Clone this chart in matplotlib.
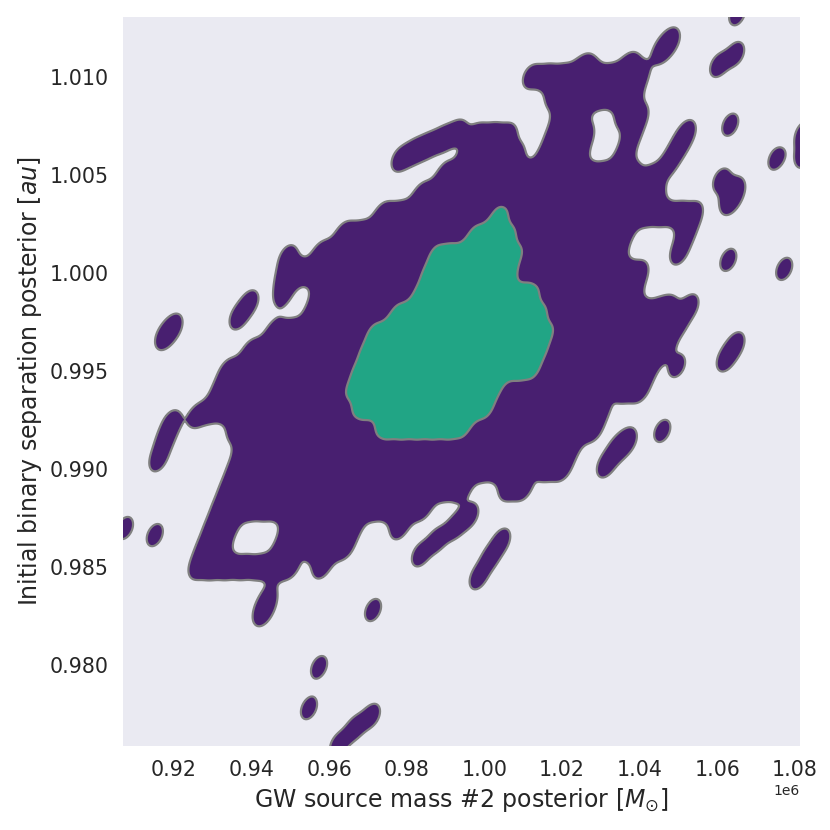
import numpy as np
import matplotlib
matplotlib.use('Agg')
import matplotlib.pyplot as plt

# posterior samples
# mass #2 in units of 1e6 Msun, separation in au
# main body of the posterior, one list of masses per separation row
body_sep = [1.010, 1.009, 1.008, 1.007, 1.006, 1.005, 1.004, 1.003, 1.002, 1.001,
            1.000, 0.999, 0.998, 0.997, 0.996, 0.995, 0.994, 0.993, 0.992, 0.991,
            0.990, 0.989, 0.988, 0.987, 0.986, 0.985]
body_mass = [
    [1.012, 1.016, 1.020, 1.024, 1.028, 1.032, 1.036, 1.040],
    [1.018, 1.022, 1.026, 1.030, 1.034, 1.038],
    [1.020, 1.024, 1.036, 1.040],
    [0.998, 1.002, 1.006, 1.018, 1.022, 1.026, 1.038],
    [0.996, 1.000, 1.004, 1.008, 1.016, 1.020, 1.024, 1.036],
    [0.990, 0.994, 0.998, 1.002, 1.006, 1.010, 1.014, 1.018, 1.022, 1.026, 1.030,
     1.034, 1.038],
    [0.984, 0.988, 0.992, 0.996, 1.000, 1.004, 1.008, 1.012, 1.016, 1.020, 1.024,
     1.028, 1.032, 1.036, 1.040, 1.044],
    [0.974, 0.978, 0.982, 0.986, 0.990, 0.994, 0.998, 1.002, 1.006, 1.010, 1.014,
     1.018, 1.022, 1.026, 1.030, 1.034, 1.038, 1.042, 1.046, 1.050, 1.054],
    [0.964, 0.968, 0.972, 0.976, 0.980, 0.984, 0.988, 0.992, 0.996, 1.000, 1.004,
     1.008, 1.012, 1.016, 1.020, 1.024, 1.028, 1.032, 1.036, 1.052],
    [0.958, 0.962, 0.966, 0.970, 0.974, 0.978, 0.982, 0.986, 0.990, 0.994, 0.998,
     1.002, 1.006, 1.010, 1.014, 1.018, 1.022, 1.026, 1.030, 1.034, 1.050],
    [0.952, 0.956, 0.960, 0.964, 0.968, 0.972, 0.976, 0.980, 0.984, 0.988, 0.992,
     0.996, 1.000, 1.004, 1.008, 1.012, 1.016, 1.020, 1.024, 1.028, 1.032, 1.036,
     1.040],
    [0.958, 0.962, 0.966, 0.970, 0.974, 0.978, 0.982, 0.986, 0.990, 0.994, 0.998,
     1.002, 1.006, 1.010, 1.014, 1.018, 1.022, 1.026, 1.030, 1.034, 1.038],
    [0.956, 0.960, 0.964, 0.968, 0.972, 0.976, 0.980, 0.984, 0.988, 0.992, 0.996,
     1.000, 1.004, 1.008, 1.012, 1.016, 1.020, 1.024, 1.028, 1.032, 1.036, 1.040,
     1.044],
    [0.946, 0.950, 0.954, 0.958, 0.962, 0.966, 0.970, 0.974, 0.978, 0.982, 0.986,
     0.990, 0.994, 0.998, 1.002, 1.006, 1.010, 1.014, 1.018, 1.022, 1.026, 1.030,
     1.034, 1.038, 1.042, 1.046],
    [0.940, 0.944, 0.948, 0.952, 0.956, 0.960, 0.964, 0.968, 0.972, 0.976, 0.980,
     0.984, 0.988, 0.992, 0.996, 1.000, 1.004, 1.008, 1.012, 1.016, 1.020, 1.024,
     1.028, 1.032, 1.036, 1.040, 1.044],
    [0.934, 0.938, 0.942, 0.946, 0.950, 0.954, 0.958, 0.962, 0.966, 0.970, 0.974,
     0.978, 0.982, 0.986, 0.990, 0.994, 0.998, 1.002, 1.006, 1.010, 1.014, 1.018,
     1.022, 1.026, 1.034, 1.038, 1.042],
    [0.932, 0.936, 0.940, 0.944, 0.948, 0.952, 0.956, 0.960, 0.964, 0.968, 0.972,
     0.976, 0.980, 0.984, 0.988, 0.992, 0.996, 1.000, 1.004, 1.008, 1.012, 1.016,
     1.020, 1.024, 1.028, 1.036, 1.040],
    [0.930, 0.934, 0.938, 0.942, 0.946, 0.950, 0.954, 0.958, 0.962, 0.966, 0.970,
     0.974, 0.978, 0.982, 0.986, 0.990, 0.994, 0.998, 1.002, 1.006, 1.010, 1.014,
     1.018, 1.022, 1.026, 1.030],
    [0.936, 0.940, 0.944, 0.948, 0.952, 0.956, 0.960, 0.964, 0.968, 0.972, 0.976,
     0.980, 0.984, 0.988, 0.992, 0.996, 1.000, 1.004, 1.008, 1.012, 1.016, 1.020,
     1.024, 1.028],
    [0.938, 0.942, 0.946, 0.950, 0.954, 0.958, 0.962, 0.966, 0.970, 0.974, 0.978,
     0.982, 0.986, 0.990, 0.994, 0.998, 1.002, 1.006, 1.014, 1.018, 1.022],
    [0.936, 0.940, 0.944, 0.948, 0.952, 0.956, 0.960, 0.964, 0.968, 0.972, 0.976,
     0.980, 0.984, 0.988, 0.992, 0.996, 1.000, 1.004, 1.008, 1.016, 1.020],
    [0.934, 0.938, 0.942, 0.946, 0.950, 0.954, 0.958, 0.962, 0.966, 0.970, 0.974,
     0.978, 0.982, 0.986, 0.990, 0.994, 1.006, 1.010],
    [0.932, 0.936, 0.940, 0.944, 0.948, 0.952, 0.956, 0.960, 0.964, 0.968, 0.972,
     0.976, 0.980, 0.984],
    [0.930, 0.934, 0.950, 0.954, 0.958, 0.962, 0.966, 0.978],
    [0.928, 0.932, 0.948, 0.956, 0.960, 0.964],
    [0.926, 0.930, 0.934, 0.938, 0.942, 0.946, 0.950, 0.958],
]

# denser core of the posterior
core_sep = [1.003, 1.002, 1.001, 1.000, 0.999, 0.998, 0.997, 0.996, 0.995, 0.994,
            0.993, 0.992]
core_mass = [
    [1.004],
    [0.998, 1.002, 1.006],
    [0.988, 0.992, 0.996, 1.000, 1.004, 1.008],
    [0.986, 0.990, 0.994, 0.998, 1.002, 1.006],
    [0.984, 0.988, 0.992, 0.996, 1.000, 1.004, 1.008, 1.012],
    [0.978, 0.982, 0.986, 0.990, 0.994, 0.998, 1.002, 1.006, 1.010, 1.014],
    [0.972, 0.976, 0.980, 0.984, 0.988, 0.992, 0.996, 1.000, 1.004, 1.008, 1.012,
     1.016],
    [0.970, 0.974, 0.978, 0.982, 0.986, 0.990, 0.994, 0.998, 1.002, 1.006, 1.010,
     1.014],
    [0.968, 0.972, 0.976, 0.980, 0.984, 0.988, 0.992, 0.996, 1.000, 1.004, 1.008,
     1.012],
    [0.966, 0.970, 0.974, 0.978, 0.982, 0.986, 0.990, 0.994, 0.998, 1.002],
    [0.968, 0.972, 0.976, 0.980, 0.984, 0.988, 0.992, 0.996, 1.000],
    [0.974, 0.978, 0.982, 0.986, 0.990, 0.994],
]

# scattered samples: lobes and islands around the body
clump_mass = [0.9782, 0.9819, 0.9855, 0.9893, 0.9932, 1.0259, 1.0375,
              1.0427, 1.0473, 1.0499, 1.0522,
              1.0473, 1.0530, 1.0499, 1.0465,
              1.0651, 1.0455, 1.0481, 1.0602, 1.0648, 1.0822, 1.0822, 1.0633,
              1.0752, 1.0610, 1.0648, 1.0630, 1.0628, 1.0772, 1.0620, 1.0648,
              1.0496,
              1.0311, 1.0342, 1.0370, 1.0458,
              0.9983, 1.0014, 1.0045, 0.9834, 0.9878, 0.9924, 0.9963, 0.9713,
              0.9574, 0.9548, 0.9710, 0.9666, 0.9623,
              0.9442, 0.9427,
              0.9195, 0.9177, 0.9159, 0.9074, 0.9151, 0.9174, 0.9200, 0.9365,
              0.9396, 0.9259,
              0.9494, 0.9486, 0.9481]
clump_sep = [1.00577, 1.00617, 1.00648, 1.00684, 1.00719, 1.0105, 1.0106,
             1.00485, 1.00551, 1.00638, 1.00719,
             0.99821, 0.99832, 0.99735, 0.99633,
             1.0132, 1.01128, 1.01189, 1.01056, 1.01117, 1.00714, 1.00592, 1.00755,
             1.00582, 1.00474, 1.00423, 1.00357, 1.00066, 1.00020, 0.99556, 0.99638,
             0.99525,
             0.99015, 0.99102, 0.99148, 0.99194,
             0.98444, 0.98546, 0.98638, 0.98561, 0.98638, 0.98704, 0.98765, 0.98281,
             0.97990, 0.97781, 0.97745, 0.97679, 0.97592,
             0.98332, 0.98260,
             0.99240, 0.99148, 0.99046, 0.98699, 0.98663, 0.99668, 0.99730, 0.99770,
             0.99852, 0.99270,
             1.00082, 0.99980, 0.99888]

mass = list(clump_mass)
sep = list(clump_sep)
for y, row in zip(body_sep + core_sep, body_mass + core_mass):
    mass += row
    sep += [y] * len(row)
mass = np.array(mass) * 1e6
sep = np.array(sep)

# gaussian kde on a grid
sx, sy, rho = 0.00206e6, 0.000561, 0.35
gx = np.linspace(0.9040e6, 1.0850e6, 520)
gy = np.linspace(0.9740, 1.0150, 520)
X, Y = np.meshgrid(gx, gy)
dens = np.zeros_like(X)
for m, s in zip(mass, sep):
    dx = (X - m) / sx
    dy = (Y - s) / sy
    q = (dx**2 - 2 * rho * dx * dy + dy**2) / (1 - rho**2)
    dens += np.exp(-0.5 * q)

plt.rcParams['font.family'] = 'DejaVu Sans'
fig = plt.figure(figsize=(8.3, 8.3), dpi=100)
ax = fig.add_axes([0.148, 0.101, 0.816, 0.879])
ax.set_facecolor('#EAEAF2')
for sp in ax.spines.values():
    sp.set_visible(False)

levels = [0.6, 2.55, dens.max() + 1]
ax.contourf(X, Y, dens, levels=levels, colors=['#481f70', '#21a585'])
ax.contour(X, Y, dens, levels=levels[:2], colors='#808080', linewidths=1.6)

ax.set_xlim(0.90686e6, 1.0813e6)
ax.set_ylim(0.97587, 1.01306)
ax.set_xticks([0.92e6, 0.94e6, 0.96e6, 0.98e6, 1.00e6, 1.02e6, 1.04e6, 1.06e6, 1.08e6])
ax.set_yticks([0.980, 0.985, 0.990, 0.995, 1.000, 1.005, 1.010])
ax.tick_params(length=0, labelsize=14.8, colors='#262626', pad=10)
ax.xaxis.get_offset_text().set_fontsize(10)
ax.set_xlabel('GW source mass #2 posterior [$M_{\\odot}$]', fontsize=17, color='#262626')
ax.set_ylabel('Initial binary separation posterior [$au$]', fontsize=17, color='#262626')

fig.savefig('out.png', dpi=100)
